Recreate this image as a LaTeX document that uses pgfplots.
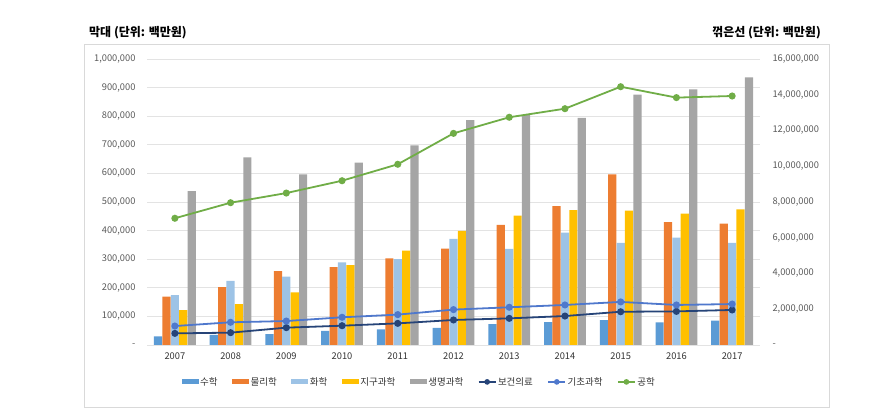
\documentclass[border=0pt]{standalone}
\usepackage{fontspec}
\setmainfont{Noto Sans CJK KR}
\usepackage{pgfplots}
\pgfplotsset{compat=1.18}
\definecolor{cmath}{HTML}{5B9BD5}
\definecolor{cphys}{HTML}{ED7D31}
\definecolor{cchem}{HTML}{9DC3E6}
\definecolor{cearth}{HTML}{FFC000}
\definecolor{clife}{HTML}{A5A5A5}
\definecolor{chealth}{HTML}{264478}
\definecolor{cbasic}{HTML}{4F78CC}
\definecolor{ceng}{HTML}{70AD47}
\definecolor{gridgray}{HTML}{E3E3E3}
\definecolor{framegray}{HTML}{D9D9D9}
\definecolor{tickgray}{HTML}{595959}

\pgfplotsset{
  barleg/.style={legend image code/.code={\fill[##1] (0pt,-2.5pt) rectangle (17pt,2.5pt);}},
  common/.style={
    at={(147pt,67pt)}, anchor=south west,
    scale only axis, width=613pt, height=286pt,
    xmin=-0.5, xmax=10.5,
    axis line style={draw=none},
    major tick length=0pt,
    scaled y ticks=false,
    ticklabel style={font=\fontsize{9.3}{11}\selectfont, text=tickgray},
  },
}

\begin{document}
\begin{tikzpicture}
\path (0pt,0pt) rectangle (891pt,412pt);
\draw[framegray, line width=0.8pt] (84pt,5pt) rectangle (829pt,368pt);
\node[anchor=west, font=\fontsize{12}{14}\selectfont\bfseries, inner sep=0pt] at (89pt,379pt) {막대 (단위: 백만원)};
\node[anchor=east, font=\fontsize{12}{14}\selectfont\bfseries, inner sep=0pt] at (821pt,379pt) {꺾은선 (단위: 백만원)};

\begin{axis}[common,
  ymin=0, ymax=1000000,
  ybar=0.2pt, bar width=8.2pt,
  xtick={0,1,2,3,4,5,6,7,8,9,10},
  xticklabels={2007,2008,2009,2010,2011,2012,2013,2014,2015,2016,2017},
  ytick={0,100000,200000,300000,400000,500000,600000,700000,800000,900000,1000000},
  yticklabels={{-},{100,000},{200,000},{300,000},{400,000},{500,000},{600,000},{700,000},{800,000},{900,000},{1,000,000}},
  ymajorgrids, grid style={gridgray, line width=0.9pt},
  yticklabel style={xshift=-8pt},
  xticklabel style={yshift=-4.5pt, text=black!80},
  legend columns=-1,
  legend style={at={(0.4437,-0.129)}, anchor=center, draw=none, fill=none,
    font=\fontsize{9.5}{11}\selectfont, text=black!80,
    /tikz/every even column/.append style={column sep=13pt},
    nodes={inner sep=1.5pt}},
]
\addplot[fill=cmath, draw=none, barleg] coordinates {
  (0,30000) (1,35000) (2,38000) (3,49000) (4,55000) (5,60000)
  (6,73000) (7,80000) (8,87000) (9,79000) (10,85000)};
\addlegendentry{수학}
\addplot[fill=cphys, draw=none, barleg] coordinates {
  (0,169000) (1,202000) (2,258000) (3,272000) (4,303000) (5,337000)
  (6,420000) (7,486000) (8,597000) (9,430000) (10,424000)};
\addlegendentry{물리학}
\addplot[fill=cchem, draw=none, barleg] coordinates {
  (0,174000) (1,224000) (2,239000) (3,289000) (4,300000) (5,371000)
  (6,336000) (7,393000) (8,357000) (9,375000) (10,357000)};
\addlegendentry{화학}
\addplot[fill=cearth, draw=none, barleg] coordinates {
  (0,122000) (1,143000) (2,184000) (3,279000) (4,330000) (5,399000)
  (6,452000) (7,472000) (8,470000) (9,459000) (10,474000)};
\addlegendentry{지구과학}
\addplot[fill=clife, draw=none, barleg] coordinates {
  (0,538000) (1,656000) (2,597000) (3,638000) (4,698000) (5,786000)
  (6,804000) (7,794000) (8,875000) (9,894000) (10,936000)};
\addlegendentry{생명과학}
\addlegendimage{line legend, sharp plot, chealth, line width=1.6pt, mark=*, mark size=2pt}
\addlegendentry{보건의료}
\addlegendimage{line legend, sharp plot, cbasic, line width=1.6pt, mark=*, mark size=2pt}
\addlegendentry{기초과학}
\addlegendimage{line legend, sharp plot, ceng, line width=1.6pt, mark=*, mark size=2pt}
\addlegendentry{공학}
\end{axis}

\begin{axis}[common,
  ymin=0, ymax=16000000,
  xtick=\empty,
  ytick={0,2000000,4000000,6000000,8000000,10000000,12000000,14000000,16000000},
  yticklabels={{-},{2,000,000},{4,000,000},{6,000,000},{8,000,000},{10,000,000},{12,000,000},{14,000,000},{16,000,000}},
  yticklabel pos=right,
  yticklabel style={anchor=west, xshift=9pt},
]
\addplot[chealth, line width=1.8pt, mark=*, mark size=2.6pt] coordinates {
  (0,650000) (1,690000) (2,970000) (3,1080000) (4,1210000) (5,1400000)
  (6,1490000) (7,1620000) (8,1860000) (9,1880000) (10,1960000)};
\addplot[cbasic, line width=1.8pt, mark=*, mark size=2.6pt] coordinates {
  (0,1060000) (1,1270000) (2,1340000) (3,1550000) (4,1700000) (5,1980000)
  (6,2110000) (7,2240000) (8,2410000) (9,2240000) (10,2290000)};
\addplot[ceng, line width=1.8pt, mark=*, mark size=2.6pt] coordinates {
  (0,7090000) (1,7960000) (2,8500000) (3,9190000) (4,10110000) (5,11840000)
  (6,12740000) (7,13220000) (8,14450000) (9,13840000) (10,13930000)};
\end{axis}
\end{tikzpicture}
\end{document}
